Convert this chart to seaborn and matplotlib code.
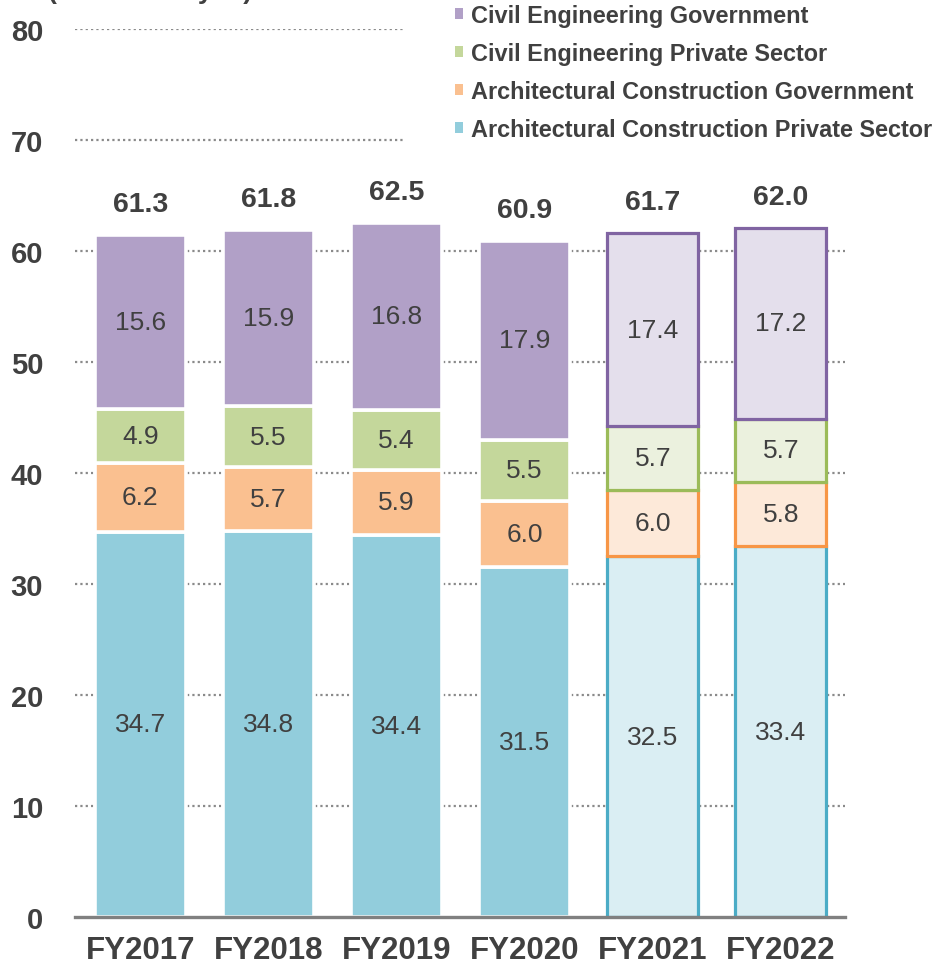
import numpy as np
import pandas as pd
import seaborn as sns
import matplotlib.pyplot as plt
from matplotlib.patches import Patch

# Construction investment by segment (trillions of yen)
years = ["FY2017", "FY2018", "FY2019", "FY2020", "FY2021", "FY2022"]
forecast_years = ["FY2021", "FY2022"]
arch_private = [34.7, 34.8, 34.4, 31.5, 32.5, 33.4]
arch_gov = [6.2, 5.7, 5.9, 6.0, 6.0, 5.8]
civil_private = [4.9, 5.5, 5.4, 5.5, 5.7, 5.7]
civil_gov = [15.6, 15.9, 16.8, 17.9, 17.4, 17.2]
totals = [61.3, 61.8, 62.5, 60.9, 61.7, 62.0]
y_ticks = [0, 10, 20, 30, 40, 50, 60, 70, 80]

series = [
    ("Architectural Construction Private Sector", arch_private, "#92CDDC", "#DAEEF3", "#4BACC6"),
    ("Architectural Construction Government", arch_gov, "#FAC090", "#FDE9D9", "#F79646"),
    ("Civil Engineering Private Sector", civil_private, "#C4D79B", "#EBF1DE", "#9BBB59"),
    ("Civil Engineering Government", civil_gov, "#B1A0C7", "#E4DFEC", "#8064A2"),
]

TEXT = "#404040"

sns.set_theme(style="white")
plt.rcParams["font.family"] = ["Liberation Sans", "DejaVu Sans"]

fig = plt.figure(figsize=(9.44, 9.70), dpi=100)
ax = fig.add_axes([75 / 944, 52 / 970, 770 / 944, 888 / 970])

# dotted guide lines; the upper two stop short of the legend
for yv in y_ticks[1:]:
    xmax = 0.4286 if yv >= 70 else 1.0
    ax.axhline(yv, xmin=0, xmax=xmax, color="#8a8a8a", linewidth=1.6,
               linestyle=(0, (1, 1.4)), zorder=0)

bottom = np.zeros(len(years))
for name, vals, fill, light, edge in series:
    df = pd.DataFrame({"year": years, "value": vals})
    sns.barplot(data=df, x="year", y="value", order=years, color=fill,
                saturation=1, width=0.71, bottom=bottom.copy(), errorbar=None,
                edgecolor="white", linewidth=2.6, ax=ax, zorder=2)
    bars = ax.containers[-1]
    for rect, yr in zip(bars, years):
        if yr in forecast_years:
            rect.set_facecolor(light)
            rect.set_edgecolor(edge)
            rect.set_linewidth(2.3)
    for i, v in enumerate(vals):
        ax.text(i, bottom[i] + v / 2, f"{v:.1f}", ha="center", va="center",
                fontsize=19, color=TEXT, zorder=4)
    bottom += np.array(vals)

for i, t in enumerate(totals):
    ax.text(i, bottom[i] + 2.8, f"{t:.1f}", ha="center", va="center",
            fontsize=20.5, fontweight="bold", color=TEXT, zorder=4)

ax.set_xlim(-0.51, 5.5)
ax.set_ylim(0, 80)
ax.set_yticks(y_ticks)
ax.set_xlabel("")
ax.set_ylabel("")
ax.grid(False)
for side in ["left", "right", "top"]:
    ax.spines[side].set_visible(False)
ax.spines["bottom"].set_color("#808080")
ax.spines["bottom"].set_linewidth(2.4)
ax.spines["bottom"].set_zorder(5)
ax.tick_params(axis="y", length=0, pad=23, labelsize=21, labelcolor=TEXT)
ax.tick_params(axis="x", length=0, pad=13, labelsize=22.5, labelcolor=TEXT)
for lbl in ax.get_yticklabels() + ax.get_xticklabels():
    lbl.set_fontweight("bold")

handles = [Patch(facecolor=s[2], edgecolor="none", label=s[0]) for s in reversed(series)]
fig.legend(handles=handles, loc="upper left", bbox_to_anchor=(455 / 944, 0.9948),
           frameon=False, prop={"weight": "bold", "size": 16.9},
           labelcolor=TEXT, handlelength=0.34, handleheight=0.34,
           handletextpad=0.35, labelspacing=0.64, borderpad=0, borderaxespad=0)

fig.text(48 / 944, 1.0015, "(Trillions of yen)", ha="left", va="baseline",
         fontsize=19, fontweight="bold", color=TEXT)

fig.savefig("out.png", dpi=100)
